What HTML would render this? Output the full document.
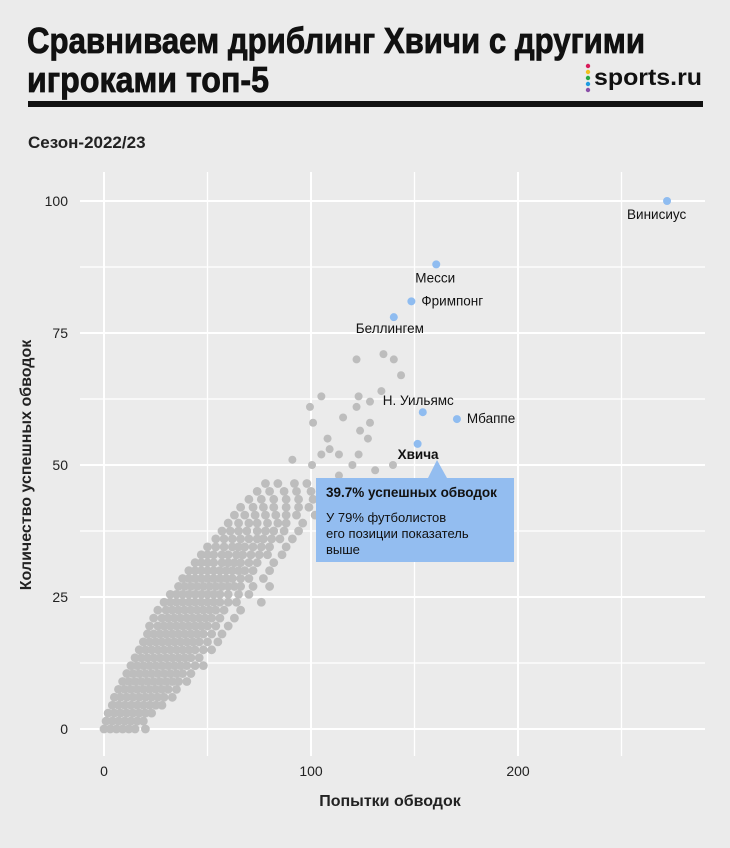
<!DOCTYPE html>
<html><head><meta charset="utf-8">
<style>
html,body{margin:0;padding:0;background:#ebebeb;}
svg{display:block;font-family:"Liberation Sans","DejaVu Sans",sans-serif;}
</style></head>
<body>
<svg id="chart" width="730" height="848" viewBox="0 0 730 848">
<rect x="0" y="0" width="730" height="848" fill="#ebebeb"/>
<g font-family="'Liberation Sans',sans-serif" font-weight="bold" font-size="36" fill="#111" stroke="#111" stroke-width="0.8">
<text x="27" y="53" textLength="618" lengthAdjust="spacingAndGlyphs">Сравниваем дриблинг Хвичи с другими</text>
<text x="27" y="92" textLength="242" lengthAdjust="spacingAndGlyphs">игроками топ-5</text>
</g>
<g>
<circle cx="588" cy="66" r="2.2" fill="#d81b5a"/>
<circle cx="588" cy="72" r="2.2" fill="#f2c01e"/>
<circle cx="588" cy="78" r="2.2" fill="#27a844"/>
<circle cx="588" cy="84" r="2.2" fill="#1e9be0"/>
<circle cx="588" cy="90" r="2.2" fill="#8a4fa8"/>
<text x="594" y="85" font-size="23" font-weight="bold" fill="#111" textLength="108" lengthAdjust="spacingAndGlyphs">sports.ru</text>
</g>
<rect x="28" y="101" width="675" height="6" fill="#111"/>
<text x="28" y="148" font-size="17" font-weight="bold" fill="#222">Сезон-2022/23</text>
<rect x="80" y="172" width="625" height="584" fill="#ebebeb"/>
<g id="grid"></g>
<g id="ticks"></g>
<g id="points"></g>
<g id="labels"></g>
<g>
<path d="M316 478 H428 L437 460 L447 478 H514 V562 H316 Z" fill="#93bdf0"/>
<text x="326" y="497" font-size="13.5" font-weight="bold" fill="#111">39.7% успешных обводок</text>
<text x="326" y="522" font-size="13" fill="#111">У 79% футболистов</text>
<text x="326" y="538" font-size="13" fill="#111">его позиции показатель</text>
<text x="326" y="554" font-size="13" fill="#111">выше</text>
</g>
<text x="390" y="806" text-anchor="middle" font-size="16" font-weight="bold" fill="#222">Попытки обводок</text>
<text transform="translate(31,465) rotate(-90)" text-anchor="middle" font-size="16" font-weight="bold" fill="#222">Количество успешных обводок</text>
</svg>
<script>
const xTicks=[0,100,200];
const xMinor=[50,150,250];
const yTicks=[0,25,50,75,100];
const yMinor=[12.5,37.5,62.5,87.5];
const rowY=[0,1.5,3,4.5,6,7.5,9,10.5,12,13.5,15,16.5,18,19.5,21,22.5,24,25.5,27,28.5,30,31.5,33,34.5,36,37.5,39,40.5,42,43.5,45,46.5];
const rowXs=[
[0,3,6,9,12,15,20],
[1,4,7,10,13,16,19],
[2,5,8,11,14,17,20,23],
[4,7,10,13,16,19,22,25,28],
[5,8,11,14,17,20,23,26,29,33],
[7,10,13,16,19,22,25,28,31,35],
[9,12,15,18,21,24,27,30,33,36,40],
[11,14,17,20,23,26,29,32,35,38,42],
[13,16,19,22,25,28,31,34,37,40,44,48],
[15,18,21,24,27,30,33,36,39,42,46],
[17,20,23,26,29,32,35,38,41,44,48,52],
[19,22,25,28,31,34,37,40,43,46,50,55],
[21,24,27,30,33,36,39,42,45,48,52,57],
[22,26,29,32,35,38,41,44,47,50,54,60],
[24,28,31,34,37,40,43,46,49,52,56,63],
[26,30,33,36,39,42,45,48,51,54,58,66],
[29,32,35,38,41,44,47,50,53,56,60,64,76],
[32,35,38,41,44,47,50,53,56,60,65,70],
[36,39,42,45,48,51,54,57,60,63,66,72,80],
[38,41,44,47,50,53,56,59,62,66,70,77],
[41,44,47,50,53,56,59,62,65,68,72,80],
[44,47,50,53,57,60,63,66,70,74,82],
[47,50,53,57,60,64,67,71,75,79,86],
[50,54,58,62,65,68,72,76,80,88],
[54,58,62,66,70,74,77,81,85,91],
[57,61,65,69,74,78,82,87,94],
[60,65,70,74,79,84,88,96],
[63,68,73,78,83,88,93,102],
[66,72,77,82,88,94,99],
[70,76,82,88,94,101],
[74,80,87,93,100,108],
[78,84,92,98,106]
];
const outX=[135,140,122,143.5,134,123,105,128.5,99.5,122,101,115.5,128.5,123.7,127.5,108,105,109,113.5,123,91,100.5,120,139.6,131,113.5];
const outY=[71,70,70,67,64,63,63,62,61,61,58,59,58,56.5,55,55,52,53,52,52,51,50,50,50,49,48];
const players=["Винисиус","Месси","Фримпонг","Беллингем","Н. Уильямс","Мбаппе","Хвича"];
const playerX=[272,160.5,148.5,140,154,170.5,151.5];
const playerY=[100,88,81,78,60,58.7,54];
const labelDx=[-40,-21,10,-38,-40,10,-20];
const labelDy=[18,18,4,16,-7,4,15];
const xs=v=>104+v*2.07;
const ys=v=>729-v*5.28;
const NS="http://www.w3.org/2000/svg";
function mk(tag,attrs,parent){const e=document.createElementNS(NS,tag);for(const k in attrs)e.setAttribute(k,attrs[k]);parent.appendChild(e);return e;}
const grid=document.getElementById('grid');
xMinor.concat(xTicks).forEach(v=>{
const l=mk('line',{x1:xs(v),x2:xs(v),y1:172,y2:756,stroke:'#fff','stroke-width':xTicks.includes(v)?2:1.3},grid);


});
yMinor.concat(yTicks).forEach(v=>{
const l=mk('line',{x1:80,x2:705,y1:ys(v),y2:ys(v),stroke:'#fff','stroke-width':yTicks.includes(v)?2:1.3},grid);


});
const ticks=document.getElementById('ticks');
xTicks.forEach(v=>{
const t=mk('text',{x:xs(v),y:776,'text-anchor':'middle','font-size':14,fill:'#222'},ticks);t.textContent=v;


});
yTicks.forEach(v=>{
const t=mk('text',{x:68,y:ys(v)+5,'text-anchor':'end','font-size':14,fill:'#222'},ticks);t.textContent=v;


});
const pts=document.getElementById('points');
rowY.forEach((y,i)=>{rowXs[i].forEach(x=>{
const c=mk('circle',{cx:xs(x),cy:ys(y),r:4.4,fill:'#bdbdbd'},pts);


});});
outX.forEach((x,i)=>{
const c=mk('circle',{cx:xs(x),cy:ys(outY[i]),r:4,fill:'#bdbdbd'},pts);


});
const labs=document.getElementById('labels');
players.forEach((p,i)=>{
const c=mk('circle',{cx:xs(playerX[i]),cy:ys(playerY[i]),r:4,fill:'#8fbcf0'},labs);


const t=mk('text',{x:xs(playerX[i])+labelDx[i],y:ys(playerY[i])+labelDy[i],'font-size':13.5,fill:'#111','font-weight':p==='Хвича'?'bold':'normal'},labs);
t.textContent=p;


});
</script>
</body></html>
